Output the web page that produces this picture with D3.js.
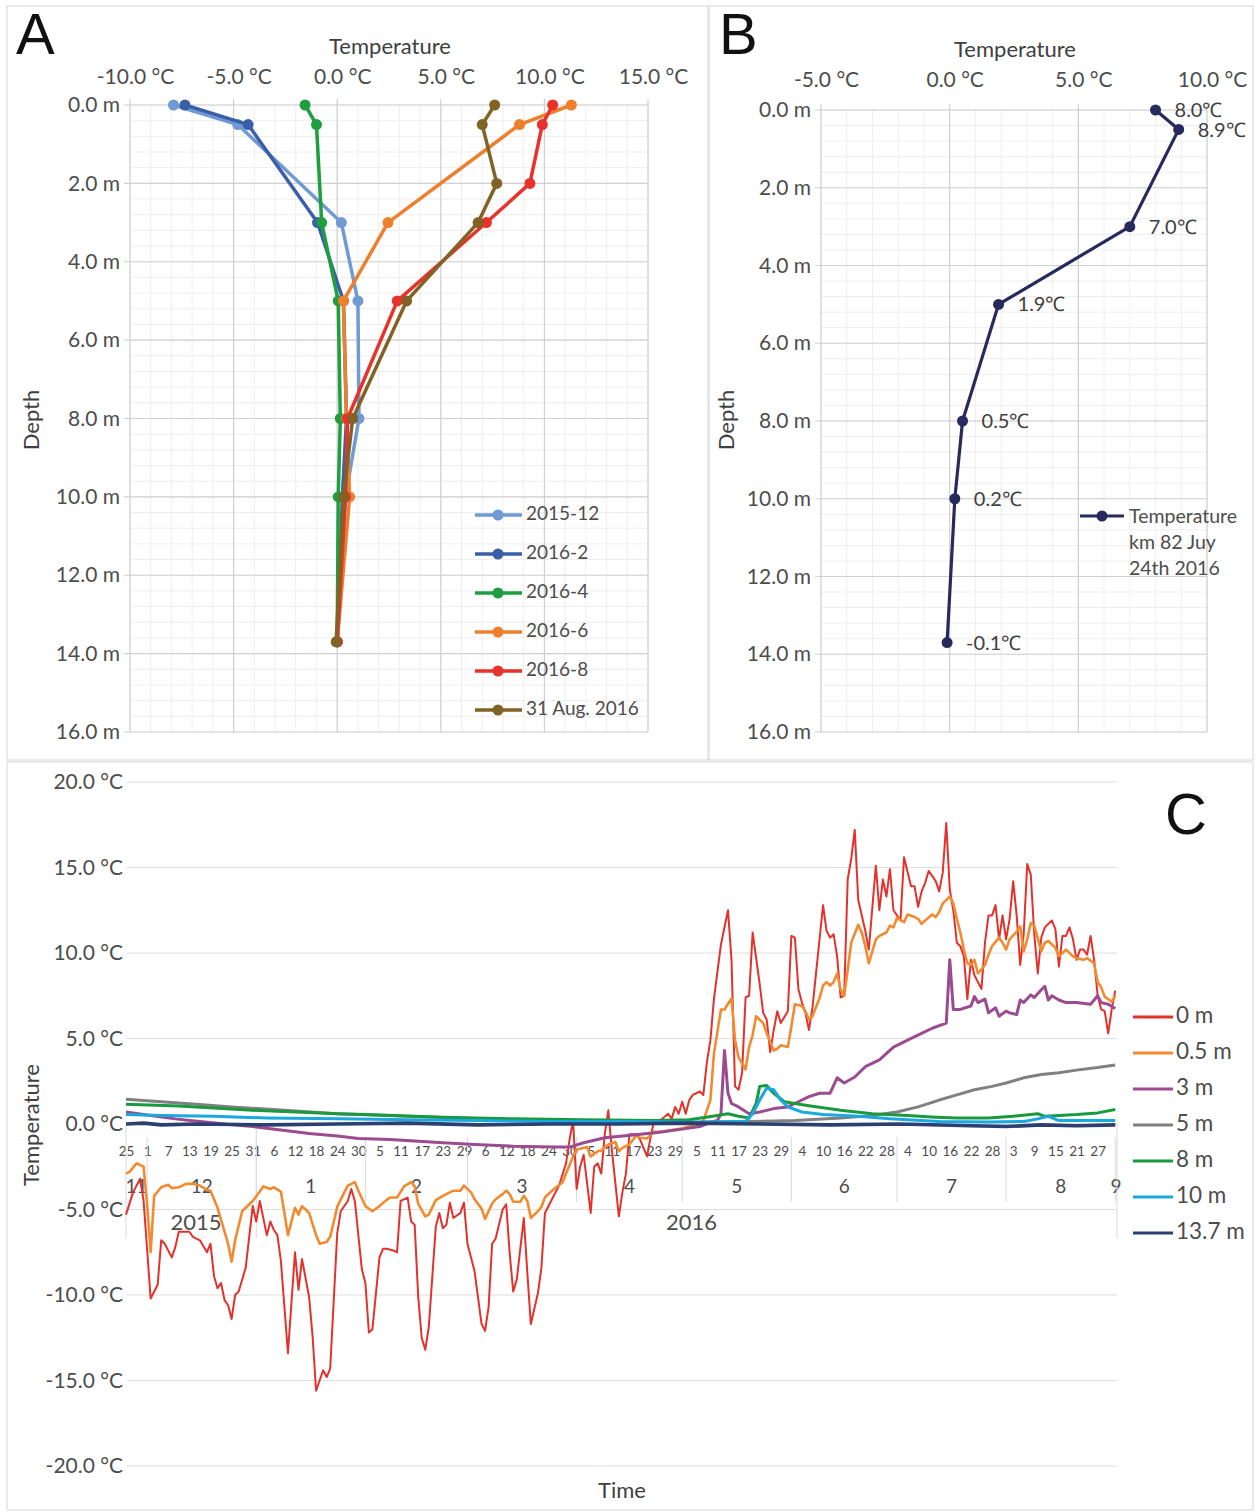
<!DOCTYPE html>
<html>
<head>
<meta charset="utf-8">
<script src="https://cdn.jsdelivr.net/npm/d3@7"></script>
<style>
  body { margin: 0; background: #fff; }
  svg { display: block; font-family: Lato, "Open Sans", sans-serif; }
</style>
</head>
<body>
<svg id="chart" width="1256" height="1512"></svg>
<script>
// ---- panel A: monthly profiles (null = not measured) ----
const depthsA = [0, 0.5, 2, 3, 5, 8, 10, 13.7];
const profileNames = ["2015-12", "2016-2", "2016-4", "2016-6", "2016-8", "31 Aug. 2016"];
const profileColors = ["#6f9ad3", "#3a5ea8", "#1f9e3f", "#ee7f2d", "#e8322b", "#806325"];
const temp201512 = [-7.9, -4.8, null, 0.2, 1.0, 1.05, 0.4, 0.0];
const temp20162 = [-7.35, -4.3, null, -0.95, 0.3, 0.45, 0.25, 0.0];
const temp20164 = [-1.55, -1.0, null, -0.75, 0.05, 0.15, 0.05, 0.0];
const temp20166 = [11.3, 8.8, null, 2.45, 0.3, 0.45, 0.6, 0.0];
const temp20168 = [10.4, 9.9, 9.3, 7.2, 2.9, 0.5, 0.4, 0.0];
const tempAug31 = [7.6, 7.0, 7.7, 6.8, 3.35, 0.75, 0.3, -0.05];
const xTicksA = [-10, -5, 0, 5, 10, 15];
const depthTicks = [0, 2, 4, 6, 8, 10, 12, 14, 16];

// ---- panel B: km 82 profile, 24 July 2016 ----
const depthsB = [0, 0.5, 3, 5, 8, 10, 13.7];
const tempsB = [8.0, 8.9, 7.0, 1.9, 0.5, 0.2, -0.1];
const xTicksB = [-5, 0, 5, 10];

// ---- panel C: daily series, [days after 25 Nov 2015, °C] ----
const seriesNames = ["0 m", "0.5 m", "3 m", "5 m", "8 m", "10 m", "13.7 m"];
const seriesColors = ["#e3322b", "#f28b30", "#9c4b90", "#808080", "#1a9a3f", "#1aa8e0", "#2b3f70"];
const yTicksC = [20, 15, 10, 5, 0, -5, -10, -15, -20];

const temp0m = [[0,-5.3],[2,-4.0],[4,-3.2],[5,-4.5],[7,-10.2],[9,-9.4],[10,-6.8],[11,-7.0],[13,-7.8],[14,-7.2],[15,-6.3],[18,-6.3],[19,-6.6],[21,-6.8],[23,-7.5],[24,-7.0],[25,-8.9],[26,-9.6],[27,-9.3],[28,-10.3],[29,-10.6],[30,-11.4],[31,-10.0],[32,-9.8],[34,-8.4],[36,-4.8],[37,-5.7],[38,-4.5],[40,-6.5],[41,-5.7],[42,-6.2],[43,-6.5],[44,-8.0],[45,-10.7],[46,-13.4],[48,-7.5],[49,-9.7],[50,-7.9],[52,-10.1],[53,-12.4],[54,-15.6],[56,-14.4],[57,-14.8],[58,-14.3],[60,-6.4],[61,-5.1],[63,-4.5],[64,-3.8],[65,-4.5],[67,-8.5],[68,-9.3],[69,-12.2],[70,-12.0],[72,-7.8],[73,-7.3],[74,-7.3],[76,-7.4],[77,-7.5],[78,-4.5],[80,-4.3],[81,-5.7],[82,-5.9],[83,-10.1],[84,-12.5],[85,-13.2],[86,-11.9],[88,-6.0],[89,-5.2],[90,-6.1],[91,-5.9],[92,-4.6],[93,-5.5],[95,-5.2],[96,-4.6],[97,-7.0],[99,-8.6],[101,-11.7],[102,-12.1],[103,-10.7],[104,-7.0],[105,-6.7],[107,-5.0],[108,-4.7],[109,-7.6],[110,-9.8],[111,-9.1],[113,-5.5],[114,-8.7],[115,-11.7],[117,-9.9],[118,-8.4],[119,-5.2],[121,-4.4],[123,-3.6],[125,-2.3],[126,-0.9],[127,0.2],[128,-3.8],[129,-2.5],[130,-1.8],[132,-5.2],[133,-2.5],[134,-2.3],[135,-2.9],[136,-0.6],[137,0.8],[138,-1.5],[140,-5.4],[141,-4.0],[142,-2.9],[143,-0.6],[145,-0.6],[146,-0.9],[148,-1.9],[149,-0.8],[150,0.2],[152,0.25],[154,0.6],[155,0.3],[156,1.0],[157,0.6],[158,1.3],[159,0.6],[160,1.4],[161,1.7],[163,1.9],[164,1.7],[165,3.6],[166,4.9],[167,7.3],[169,10.5],[171,12.5],[172,9.6],[173,2.2],[174,2.0],[175,3.0],[176,7.4],[177,7.5],[178,11.2],[180,8.2],[181,6.5],[182,6.1],[183,4.2],[184,5.5],[185,6.6],[186,5.9],[188,6.6],[189,11.0],[190,10.9],[191,7.9],[192,7.1],[193,6.5],[194,5.5],[195,6.8],[197,10.8],[198,12.8],[199,11.3],[200,10.9],[201,11.1],[202,9.8],[203,7.4],[204,7.5],[205,14.3],[206,15.5],[207,17.2],[208,13.1],[210,11.3],[211,10.2],[213,15.1],[214,12.5],[215,14.3],[216,13.3],[217,14.9],[218,12.5],[220,11.9],[221,15.6],[223,13.9],[224,13.9],[225,12.7],[226,13.6],[227,14.1],[228,14.8],[230,14.2],[231,13.6],[232,14.7],[233,17.6],[234,13.7],[235,12.5],[236,10.6],[237,10.4],[238,9.8],[239,7.3],[240,9.6],[241,8.7],[243,7.9],[244,10.6],[245,12.2],[246,12.2],[247,12.8],[248,10.8],[249,12.2],[250,10.8],[251,12.0],[252,14.2],[253,12.2],[254,9.3],[255,11.1],[256,15.2],[257,14.6],[258,11.1],[259,8.8],[260,10.9],[261,11.5],[263,11.9],[264,11.4],[265,9.2],[266,11.0],[267,11.0],[268,11.5],[269,10.8],[270,9.6],[271,10.2],[272,10.2],[273,9.9],[274,11.0],[275,9.6],[276,7.5],[277,6.7],[278,6.6],[279,5.3],[280,6.7],[281,7.8]];
const temp05m = [[0,-2.9],[1,-2.8],[3,-2.3],[5,-2.5],[6,-4.7],[7,-7.5],[8,-4.2],[10,-3.7],[12,-3.55],[13,-3.75],[15,-3.7],[16,-3.6],[17,-3.5],[19,-3.5],[21,-3.6],[23,-3.85],[24,-3.9],[26,-4.9],[27,-5.6],[29,-7.0],[30,-8.05],[31,-6.8],[33,-5.1],[34,-4.9],[36,-4.5],[38,-3.95],[39,-3.65],[41,-3.8],[42,-3.7],[44,-3.95],[45,-5.2],[46,-6.5],[48,-4.9],[49,-5.3],[50,-4.8],[52,-5.2],[54,-6.5],[55,-7.0],[57,-6.9],[58,-6.6],[60,-4.85],[62,-4.0],[63,-3.6],[65,-3.4],[66,-3.9],[68,-4.8],[70,-5.1],[72,-4.8],[74,-4.45],[75,-4.3],[77,-4.3],[79,-3.65],[81,-3.4],[82,-3.65],[83,-4.65],[85,-5.4],[86,-5.3],[88,-4.45],[90,-4.2],[91,-4.1],[93,-3.9],[95,-3.9],[96,-3.6],[98,-4.0],[99,-4.4],[101,-4.95],[102,-5.55],[104,-4.65],[105,-4.4],[107,-4.1],[108,-3.9],[109,-4.1],[110,-4.55],[112,-4.55],[113,-4.2],[114,-4.5],[115,-5.5],[117,-5.1],[118,-4.85],[119,-4.3],[121,-3.9],[124,-3.4],[125,-2.9],[127,-1.9],[128,-1.5],[129,-1.45],[131,-1.35],[132,-1.9],[134,-1.6],[135,-1.55],[137,-1.2],[139,-1.05],[140,-1.6],[141,-1.4],[143,-1.2],[145,-0.65],[146,-0.8],[148,-0.85],[150,-0.45],[152,-0.45],[155,-0.35],[158,-0.25],[160,-0.15],[162,-0.1],[164,0.2],[166,1.4],[167,4.1],[169,6.7],[170,6.7],[172,7.35],[173,4.9],[174,3.9],[176,3.2],[177,4.5],[178,5.2],[179,6.3],[181,5.9],[182,5.3],[184,4.3],[185,4.4],[186,4.6],[188,4.5],[189,5.7],[190,7.0],[192,6.9],[193,6.6],[194,6.1],[195,6.3],[197,7.35],[198,8.1],[199,8.3],[200,8.1],[201,8.3],[202,8.8],[203,7.85],[204,7.5],[205,9.0],[206,10.6],[208,11.65],[209,11.2],[210,10.4],[211,9.4],[213,10.8],[214,11.0],[216,11.2],[217,11.6],[218,11.5],[219,12.05],[221,11.8],[222,12.25],[224,12.1],[225,12.0],[226,11.7],[227,11.9],[229,12.25],[230,12.1],[231,12.4],[232,12.9],[234,13.3],[235,12.9],[236,12.0],[237,11.2],[238,10.2],[239,9.4],[240,9.3],[241,9.6],[242,8.8],[244,9.3],[245,9.9],[246,10.4],[248,10.9],[249,10.6],[250,10.2],[251,10.8],[253,11.25],[254,11.55],[255,10.1],[256,10.8],[257,11.75],[258,11.6],[260,10.1],[261,10.6],[262,10.7],[264,10.3],[265,9.8],[266,10.0],[267,10.2],[269,9.8],[270,9.7],[272,9.6],[273,9.7],[275,9.4],[276,8.3],[277,8.0],[278,7.45],[280,7.15],[281,7.5]];
const temp3m = [[0,0.7],[7,0.5],[14,0.3],[21,0.15],[28,0.0],[36,-0.15],[44,-0.35],[52,-0.55],[60,-0.7],[66,-0.85],[75,-0.9],[82,-1.0],[90,-1.1],[99,-1.2],[110,-1.3],[122,-1.35],[126,-1.35],[130,-1.1],[136,-0.8],[144,-0.65],[151,-0.5],[158,-0.3],[163,-0.15],[166,0.1],[168,0.2],[169,0.6],[170,4.3],[171,1.8],[172,1.2],[174,1.0],[177,0.6],[180,0.7],[184,0.9],[188,1.0],[191,1.3],[194,1.6],[197,1.8],[200,1.8],[202,2.7],[204,2.4],[207,2.75],[210,3.35],[214,3.75],[218,4.5],[222,4.9],[226,5.3],[229,5.6],[233,5.9],[234,9.6],[235,6.7],[237,6.7],[240,6.9],[241,7.45],[242,7.1],[244,7.3],[245,6.5],[247,6.8],[248,6.3],[250,6.6],[251,6.5],[253,6.4],[254,7.25],[255,7.1],[257,7.55],[258,7.4],[260,7.85],[261,8.05],[262,7.25],[263,7.5],[265,7.25],[267,7.1],[270,7.1],[274,7.0],[276,7.5],[277,7.1],[279,7.0],[281,6.75]];
const temp5m = [[0,1.45],[10,1.3],[20,1.15],[30,1.0],[45,0.8],[60,0.6],[80,0.45],[100,0.3],[120,0.2],[140,0.1],[160,0.1],[177,0.15],[190,0.2],[203,0.35],[212,0.5],[219,0.7],[225,1.0],[231,1.4],[236,1.7],[241,2.0],[246,2.2],[250,2.4],[255,2.7],[260,2.9],[265,3.0],[270,3.15],[276,3.3],[281,3.45]];
const temp8m = [[0,1.15],[15,1.05],[36,0.8],[60,0.6],[68,0.55],[90,0.4],[110,0.3],[130,0.25],[150,0.2],[160,0.25],[168,0.5],[171,0.6],[174,0.45],[177,0.35],[179,1.2],[180,2.2],[182,2.25],[183,2.0],[184,1.8],[187,1.3],[190,1.2],[193,1.1],[198,0.95],[203,0.8],[212,0.6],[222,0.5],[230,0.4],[236,0.35],[245,0.35],[252,0.45],[259,0.6],[261,0.45],[265,0.5],[270,0.55],[276,0.65],[281,0.85]];
const temp10m = [[0,0.55],[10,0.5],[25,0.45],[40,0.35],[60,0.3],[80,0.25],[100,0.2],[120,0.15],[140,0.15],[160,0.1],[176,0.15],[178,0.6],[180,1.4],[182,2.1],[184,2.0],[186,1.4],[188,1.0],[192,0.7],[198,0.55],[208,0.45],[217,0.3],[231,0.15],[245,0.12],[255,0.15],[259,0.3],[262,0.45],[265,0.2],[281,0.2]];
const temp137m = [[0,0.0],[5,0.05],[10,-0.05],[20,0.0],[40,-0.05],[60,0.0],[80,0.05],[100,-0.05],[120,0.0],[140,0.0],[160,0.05],[180,0.0],[200,-0.05],[220,0.0],[240,-0.1],[250,-0.15],[260,-0.05],[270,-0.1],[281,-0.05]];

const svg = d3.select("#chart");
const tickColor = "#4d4d4d";
const titleColor = "#404040";
const majorGrid = "#d0d0d0";
const minorGrid = "#eeeeee";

// panel frames
[[7, 6, 701, 754], [709, 6, 544, 754], [7, 762, 1246, 748]].forEach(([x, y, w, h]) => {
  svg.append("rect").attr("x", x).attr("y", y).attr("width", w).attr("height", h)
    .attr("fill", "none").attr("stroke", "#dcdcdc").attr("stroke-width", 1.2);
});

function panelLetter(text, x, y) {
  svg.append("text").attr("x", x).attr("y", y)
    .attr("font-family", "'Liberation Sans', Arial, sans-serif")
    .attr("font-size", 58).attr("fill", "#111").text(text);
}

function profileFrame(x, y, xTicks, labelPad, titleX, titleY, depthX) {
  const [x0, x1] = x.domain();
  const [y0, y1] = y.domain();
  const g = svg.append("g");

  g.append("g").selectAll("line").data(d3.range(x0, x1 + 0.01, 1)).join("line")
    .attr("x1", (d) => x(d)).attr("x2", (d) => x(d))
    .attr("y1", y(y0)).attr("y2", y(y1))
    .attr("stroke", minorGrid);
  g.append("g").selectAll("line").data(d3.range(y0, y1 + 0.01, 0.4)).join("line")
    .attr("x1", x(x0)).attr("x2", x(x1))
    .attr("y1", (d) => y(d)).attr("y2", (d) => y(d))
    .attr("stroke", minorGrid);
  g.append("g").selectAll("line").data(xTicks).join("line")
    .attr("x1", (d) => x(d)).attr("x2", (d) => x(d))
    .attr("y1", y(y0) - 6).attr("y2", y(y1))
    .attr("stroke", majorGrid).attr("stroke-width", 1.2);
  g.append("g").selectAll("line").data(depthTicks).join("line")
    .attr("x1", x(x0) - 6).attr("x2", x(x1))
    .attr("y1", (d) => y(d)).attr("y2", (d) => y(d))
    .attr("stroke", majorGrid).attr("stroke-width", 1.2);

  const top = g.append("g").attr("transform", `translate(0,${y(y0)})`)
    .call(d3.axisTop(x).tickValues(xTicks).tickSize(0).tickPadding(labelPad)
      .tickFormat((d) => `${d.toFixed(1)} °C`));
  top.select(".domain").remove();
  top.selectAll("text").attr("font-size", 21).attr("fill", tickColor)
    .attr("font-family", "Lato, sans-serif").attr("dx", 5);

  const left = g.append("g").attr("transform", `translate(${x(x0)},0)`)
    .call(d3.axisLeft(y).tickValues(depthTicks).tickSize(0).tickPadding(10)
      .tickFormat((d) => `${d.toFixed(1)} m`));
  left.select(".domain").remove();
  left.selectAll("text").attr("font-size", 21).attr("fill", tickColor)
    .attr("font-family", "Lato, sans-serif");

  g.append("text").attr("x", titleX).attr("y", titleY)
    .attr("text-anchor", "middle").attr("dominant-baseline", "middle")
    .attr("font-size", 22).attr("fill", titleColor).text("Temperature");
  g.append("text")
    .attr("transform", `translate(${depthX},420) rotate(-90)`)
    .attr("text-anchor", "middle").attr("dominant-baseline", "middle")
    .attr("font-size", 22).attr("fill", titleColor).text("Depth");
  return g;
}

// ================= Panel A =================
const xA = d3.scaleLinear().domain([-10, 15]).range([130, 648]);
const yA = d3.scaleLinear().domain([0, 16]).range([105, 732]);
profileFrame(xA, yA, xTicksA, 21, 390, 48, 33);

const profilesA = [temp201512, temp20162, temp20164, temp20166, temp20168, tempAug31].map((temps, i) => ({
  name: profileNames[i],
  color: profileColors[i],
  points: temps.map((t, j) => ({ depth: depthsA[j], temp: t })).filter((p) => p.temp !== null),
}));

const lineA = d3.line().x((p) => xA(p.temp)).y((p) => yA(p.depth));
const gA = svg.append("g");
profilesA.forEach((prof) => {
  gA.append("path").attr("d", lineA(prof.points)).attr("fill", "none")
    .attr("stroke", prof.color).attr("stroke-width", 3.5).attr("stroke-linejoin", "round");
  gA.append("g").selectAll("circle").data(prof.points).join("circle")
    .attr("cx", (p) => xA(p.temp)).attr("cy", (p) => yA(p.depth)).attr("r", 5.5)
    .attr("fill", prof.color);
});

const legA = svg.append("g");
profilesA.forEach((prof, i) => {
  const ly = 515 + i * 39;
  legA.append("line").attr("x1", 475).attr("x2", 522).attr("y1", ly).attr("y2", ly)
    .attr("stroke", prof.color).attr("stroke-width", 3.5);
  legA.append("circle").attr("cx", 498).attr("cy", ly).attr("r", 5.5).attr("fill", prof.color);
  legA.append("text").attr("x", 526).attr("y", ly).attr("dominant-baseline", "middle")
    .attr("font-size", 19).attr("fill", tickColor).text(prof.name);
});
panelLetter("A", 16, 54);

// ================= Panel B =================
const xB = d3.scaleLinear().domain([-5, 10]).range([821, 1207]);
const yB = d3.scaleLinear().domain([0, 16]).range([110, 732]);
profileFrame(xB, yB, xTicksB, 23, 1015, 51, 728);

const pointsB = tempsB.map((t, i) => ({ depth: depthsB[i], temp: t }));
const navyB = "#262a5c";
const gB = svg.append("g");
gB.append("path")
  .attr("d", d3.line().x((p) => xB(p.temp)).y((p) => yB(p.depth))(pointsB))
  .attr("fill", "none").attr("stroke", navyB).attr("stroke-width", 3.2);
gB.selectAll("circle").data(pointsB).join("circle")
  .attr("cx", (p) => xB(p.temp)).attr("cy", (p) => yB(p.depth)).attr("r", 5.5).attr("fill", navyB);
gB.selectAll("text.val").data(pointsB).join("text").attr("class", "val")
  .attr("x", (p) => xB(p.temp) + 19).attr("y", (p) => yB(p.depth) + 2)
  .attr("dominant-baseline", "middle").attr("font-size", 20).attr("fill", titleColor)
  .text((p) => `${p.temp.toFixed(1)}℃`);

svg.append("line").attr("x1", 1080).attr("x2", 1124).attr("y1", 516).attr("y2", 516)
  .attr("stroke", navyB).attr("stroke-width", 3.2);
svg.append("circle").attr("cx", 1102).attr("cy", 516).attr("r", 5.5).attr("fill", navyB);
svg.append("text").attr("font-size", 19.5).attr("fill", tickColor)
  .selectAll("tspan").data(["Temperature", "km 82 Juy", "24th 2016"]).join("tspan")
  .attr("x", 1129).attr("y", (d, i) => 523 + i * 26).text((d) => d);
panelLetter("B", 719, 54);

// ================= Panel C =================
const startDay = new Date(Date.UTC(2015, 10, 25));
const endDay = new Date(Date.UTC(2016, 8, 1, 12));
const dayDate = (n) => d3.utcDay.offset(startDay, n);
const xC = d3.scaleUtc().domain([startDay, endDay]).range([126, 1117]);
const yC = d3.scaleLinear().domain([-20, 20]).range([1466, 782]);

const gC = svg.append("g");
gC.append("g").selectAll("line").data(yTicksC).join("line")
  .attr("x1", 127).attr("x2", 1117).attr("y1", (d) => yC(d)).attr("y2", (d) => yC(d))
  .attr("stroke", "#dedede").attr("stroke-width", 1.2);

const leftC = gC.append("g").attr("transform", "translate(127,0)")
  .call(d3.axisLeft(yC).tickValues(yTicksC).tickSize(0).tickPadding(4)
    .tickFormat((d) => `${d.toFixed(1)} °C`));
leftC.select(".domain").remove();
leftC.selectAll("text").attr("font-size", 21).attr("fill", tickColor).attr("font-family", "Lato, sans-serif");

// day labels every 6 days
const dayTicks = d3.range(0, 281, 6).map(dayDate);
const bottomC = gC.append("g").attr("transform", `translate(0,${yC(0)})`)
  .call(d3.axisBottom(xC).tickValues(dayTicks).tickSize(0)
    .tickFormat((d) => d.getUTCDate()));
bottomC.select(".domain").attr("stroke", "#d9d9d9");
bottomC.selectAll("text").attr("y", 28).attr("dy", "0.32em")
  .attr("font-size", 13.5).attr("fill", tickColor).attr("font-family", "Lato, sans-serif");

// month separators and labels
const monthStarts = d3.utcMonth.range(d3.utcMonth.ceil(startDay), endDay);
gC.append("g").selectAll("line").data(monthStarts).join("line")
  .attr("x1", (d) => xC(d)).attr("x2", (d) => xC(d)).attr("y1", 1137).attr("y2", 1202)
  .attr("stroke", "#d9d9d9");
const monthSpans = [startDay, ...monthStarts].map((m, i, arr) => {
  const stop = i + 1 < arr.length ? arr[i + 1] : endDay;
  return { label: m.getUTCMonth() + 1, mid: new Date((m.getTime() + Math.min(stop.getTime(), endDay.getTime())) / 2) };
});
gC.append("g").selectAll("text").data(monthSpans).join("text")
  .attr("x", (d) => xC(d.mid)).attr("y", 1188).attr("text-anchor", "middle")
  .attr("dominant-baseline", "middle").attr("font-size", 19).attr("fill", tickColor)
  .text((d) => d.label);

// year separators and labels
const yearEdges = [startDay, new Date(Date.UTC(2016, 0, 1)), endDay];
gC.append("g").selectAll("line").data(yearEdges).join("line")
  .attr("x1", (d) => xC(d)).attr("x2", (d) => xC(d)).attr("y1", yC(0)).attr("y2", 1238)
  .attr("stroke", "#d9d9d9");
gC.append("g").selectAll("text").data([2015, 2016]).join("text")
  .attr("x", (d, i) => (xC(yearEdges[i]) + xC(yearEdges[i + 1])) / 2 + 5)
  .attr("y", 1224).attr("text-anchor", "middle").attr("dominant-baseline", "middle")
  .attr("font-size", 22).attr("fill", tickColor).text((d) => d);

const seriesC = [temp0m, temp05m, temp3m, temp5m, temp8m, temp10m, temp137m];
const widthsC = [2, 2.6, 3, 3, 3, 3, 3.6];
const lineC = d3.line().x((d) => xC(dayDate(d[0]))).y((d) => yC(d[1]));
seriesC.forEach((values, i) => {
  gC.append("path").attr("d", lineC(values)).attr("fill", "none")
    .attr("stroke", seriesColors[i]).attr("stroke-width", widthsC[i])
    .attr("stroke-linejoin", "round");
});

const legC = svg.append("g");
seriesNames.forEach((name, i) => {
  const ly = 1017 + i * 36;
  legC.append("line").attr("x1", 1133).attr("x2", 1173).attr("y1", ly).attr("y2", ly)
    .attr("stroke", seriesColors[i]).attr("stroke-width", 3);
  legC.append("text").attr("x", 1176).attr("y", ly).attr("dominant-baseline", "middle")
    .attr("font-size", 22.5).attr("fill", tickColor).text(name);
});

svg.append("text").attr("transform", "translate(33,1125) rotate(-90)")
  .attr("text-anchor", "middle").attr("dominant-baseline", "middle")
  .attr("font-size", 22).attr("fill", titleColor).text("Temperature");
svg.append("text").attr("x", 622).attr("y", 1492).attr("text-anchor", "middle")
  .attr("dominant-baseline", "middle").attr("font-size", 22).attr("fill", titleColor).text("Time");
panelLetter("C", 1165, 834);
</script>
</body>
</html>
